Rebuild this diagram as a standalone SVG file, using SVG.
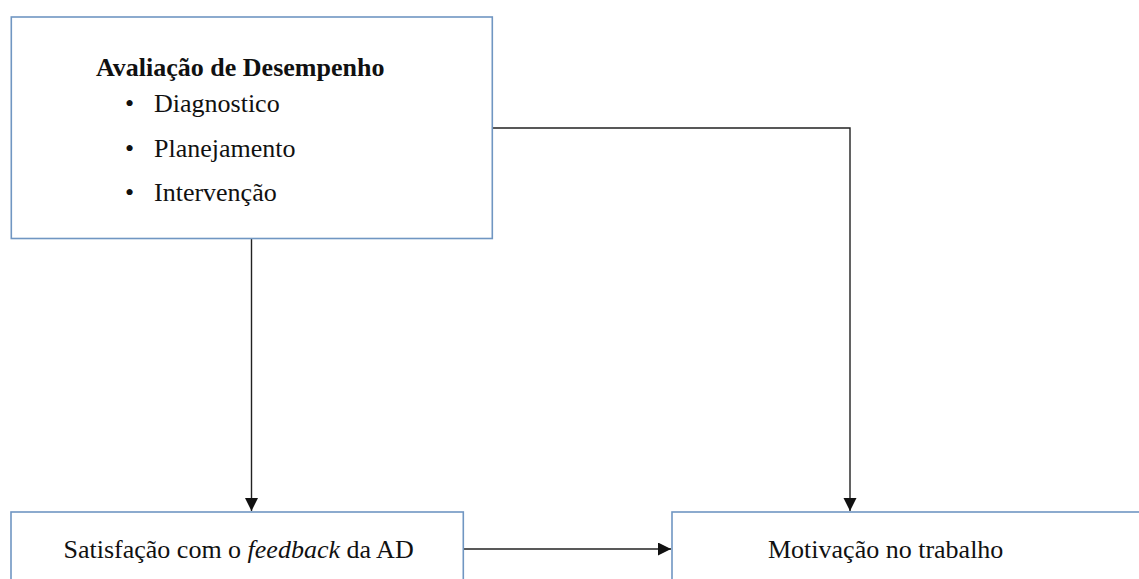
<svg xmlns="http://www.w3.org/2000/svg" width="1139" height="579" viewBox="0 0 1139 579">
<style>
.box{fill:#ffffff;stroke:#7096c2;stroke-width:1.6}
.t{font-family:'Liberation Serif','Tinos','Times New Roman','Noto Serif','DejaVu Serif',serif;font-size:26px;fill:#111}
.b{font-weight:bold}
.c{fill:none;stroke:#222;stroke-width:1.4}
</style>
<defs>
<marker id="ah" markerUnits="userSpaceOnUse" markerWidth="14" markerHeight="14" refX="13" refY="6.5" orient="auto">
<path d="M0,0 L13,6.5 L0,13 Z" fill="#111"/>
</marker>
</defs>
<rect x="0" y="0" width="1139" height="579" fill="#ffffff"/>
<g id="connectors">
<path class="c" d="M251.5,239 V511" marker-end="url(#ah)"/>
<path class="c" d="M492,128 H850 V511" marker-end="url(#ah)"/>
<path class="c" d="M463,549 H671" marker-end="url(#ah)"/>
</g>
<g id="node-avaliacao">
<rect class="box" x="11.3" y="17" width="481" height="221.5"/>
<text class="t b" font-family="Liberation Serif, serif" x="96" y="76">Avaliação de Desempenho</text>
<text class="t" font-family="Liberation Serif, serif" x="125" y="112">•</text>
<text class="t" font-family="Liberation Serif, serif" x="154" y="112">Diagnostico</text>
<text class="t" font-family="Liberation Serif, serif" x="125" y="156.5">•</text>
<text class="t" font-family="Liberation Serif, serif" x="154" y="156.5">Planejamento</text>
<text class="t" font-family="Liberation Serif, serif" x="125" y="201">•</text>
<text class="t" font-family="Liberation Serif, serif" x="154" y="201">Intervenção</text>
</g>
<g id="node-satisfacao">
<rect class="box" x="11" y="512" width="452.3" height="80"/>
<text class="t" font-family="Liberation Serif, serif" x="63.5" y="557.5">Satisfação com o <tspan font-style="italic">feedback</tspan> da AD</text>
</g>
<g id="node-motivacao">
<rect class="box" x="672" y="512" width="480" height="80"/>
<text class="t" font-family="Liberation Serif, serif" x="768" y="558">Motivação no trabalho</text>
</g>
</svg>
